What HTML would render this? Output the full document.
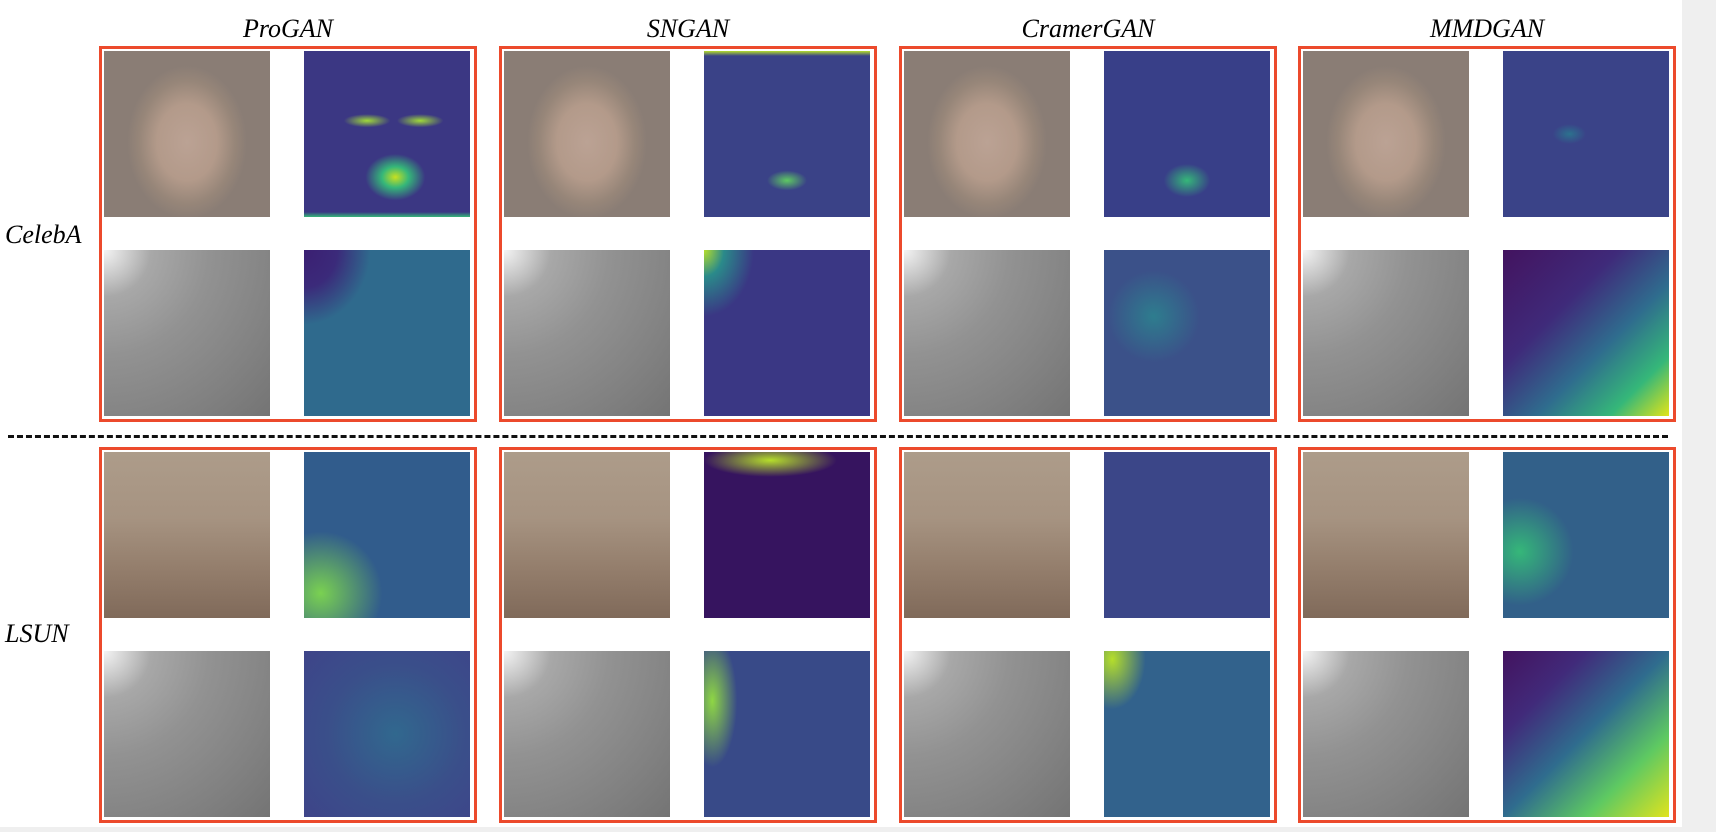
<!DOCTYPE html>
<html><head><meta charset="utf-8"><style>
html,body{margin:0;padding:0;width:1716px;height:832px;overflow:hidden;background:#efefef;font-family:"Liberation Serif",serif}
#page{position:absolute;left:0;top:0;width:1682px;height:827px;background:#fff}
.t{position:absolute;top:14px;width:378px;text-align:center;font-style:italic;font-size:26px;color:#000}
.rl{position:absolute;left:5px;font-style:italic;font-size:26px;color:#000}
.box{position:absolute;width:372px;height:370px;border:3px solid #ec4a2c}
.im{position:absolute;width:166px;height:166px}
#dash{position:absolute;left:8px;top:435px;width:1660px;height:0;border-top:3px dashed #111}
</style></head><body>
<div id="page">
<div id="dash"></div>
</div>
<script>
const models=["ProGAN","SNGAN","CramerGAN","MMDGAN"];
const datasets=["CelebA","LSUN"];
const boxX=[99,499,899,1298];
const boxY=[46,447];
const face="radial-gradient(ellipse 36% 46% at 50% 55%, #bba294 0%, #b39a8a 50%, #978679 80%, #8a7d75 100%)";
const gray="radial-gradient(circle at 0% 0%, #f4f4f4 0%, #a8a8a8 20%, #929292 45%, #828282 75%, #747474 100%)";
const lsun="linear-gradient(180deg,#ad9c8a 0%,#a69381 40%,#947e6c 70%,#806a5a 100%)";
const heat=[
 ["radial-gradient(ellipse 18% 14% at 55% 76%, #c8e020 0%, #35b779 45%, rgba(59,50,130,0) 100%), radial-gradient(ellipse 14% 4% at 38% 42%, #a0da39 0%, rgba(59,50,130,0) 100%), radial-gradient(ellipse 14% 4% at 70% 42%, #a0da39 0%, rgba(59,50,130,0) 100%), linear-gradient(0deg,#35b779 0%,rgba(0,0,0,0) 3%), #3b3783",
  "radial-gradient(ellipse 12% 6% at 50% 78%, #5ec962 0%, rgba(0,0,0,0) 100%), linear-gradient(180deg,#b5de2b 0%,rgba(0,0,0,0) 3%), #3a4287",
  "radial-gradient(ellipse 14% 10% at 50% 78%, #35b779 0%, rgba(0,0,0,0) 100%), #383f88",
  "radial-gradient(ellipse 10% 6% at 40% 50%, #2c728e 0%, rgba(0,0,0,0) 100%), #3a4388"],
 ["radial-gradient(ellipse 40% 45% at 0% 0%, #3b1f72 0%, #3b2a7a 50%, rgba(0,0,0,0) 100%), #2f6a8d",
  "radial-gradient(ellipse 30% 40% at 0% 0%, #b5de2b 0%, #2a8a8a 40%, rgba(0,0,0,0) 100%), #3a3784",
  "radial-gradient(circle at 30% 40%, #2e7d8e 0%, rgba(0,0,0,0) 30%), #3b5189",
  "linear-gradient(135deg,#43135f 0%,#3f2a7a 35%,#2f6c8e 60%,#35b779 82%,#e2e418 100%)"],
 ["radial-gradient(circle at 10% 85%, #7ad151 0%, rgba(0,0,0,0) 30%), #315c8c",
  "radial-gradient(ellipse 40% 10% at 40% 5%, #b5de2b 0%, rgba(0,0,0,0) 100%), #36145f",
  "#3b4688",
  "radial-gradient(circle at 10% 60%, #35b779 0%, rgba(0,0,0,0) 30%), #326089"],
 ["radial-gradient(circle at 55% 50%, #31688e 0%, #3a4f8a 55%, #3e4489 100%)",
  "radial-gradient(ellipse 15% 40% at 5% 30%, #8fd744 0%, rgba(0,0,0,0) 100%), #384a88",
  "radial-gradient(ellipse 20% 30% at 5% 5%, #b5de2b 0%, rgba(0,0,0,0) 100%), #32628c",
  "linear-gradient(135deg,#43135f 0%,#412a7a 25%,#2f6c8e 50%,#5ec962 75%,#e0e31e 100%)"]
];
const page=document.getElementById('page');
models.forEach((m,c)=>{
  const t=document.createElement('div');
  t.className='t';t.style.left=boxX[c]+'px';t.textContent=m;
  
  
  page.appendChild(t);
  boxY.forEach((by,d)=>{
    const b=document.createElement('div');
    b.className='box';b.style.left=boxX[c]+'px';b.style.top=by+'px';
    
    
    page.appendChild(b);
    for(let r=0;r<2;r++){
      const row=d*2+r;
      const a=document.createElement('div');
      a.className='im';a.style.left=(boxX[c]+5)+'px';a.style.top=(by+5+r*199)+'px';
      a.style.background = r===1?gray:(d===0?face:lsun);
      
      
      page.appendChild(a);
      const h=document.createElement('div');
      h.className='im';h.style.left=(boxX[c]+205)+'px';h.style.top=(by+5+r*199)+'px';
      h.style.background=heat[row][c];
      
      
      page.appendChild(h);
    }
  });
});
datasets.forEach((s,d)=>{
  const l=document.createElement('div');
  l.className='rl';l.style.top=(d===0?220:619)+'px';l.textContent=s;
  
  
  page.appendChild(l);
});
</script>
</body></html>
